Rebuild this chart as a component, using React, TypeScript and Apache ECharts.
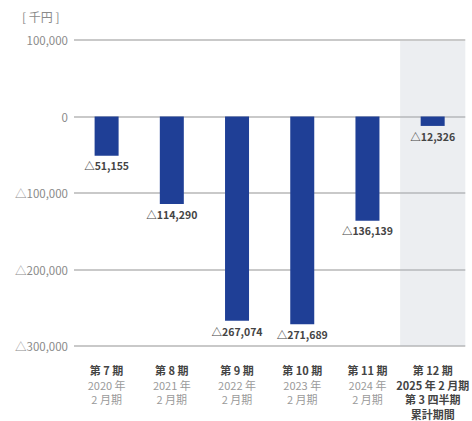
import React, { useEffect, useRef } from "react";
import * as echarts from "echarts";

const periods = ["第 7 期", "第 8 期", "第 9 期", "第 10 期", "第 11 期", "第 12 期"];
const subLine1 = ["2020 年", "2021 年", "2022 年", "2023 年", "2024 年", "2025 年 2 月期"];
const subLine2 = ["2 月期", "2 月期", "2 月期", "2 月期", "2 月期", "第 3 四半期"];
const subLine3 = ["", "", "", "", "", "累計期間"];
const values = [-51155, -114290, -267074, -271689, -136139, -12326];
const yTicks = [100000, 0, -100000, -200000, -300000];
const unitLabel = "[ 千円 ]";
const highlightIndex = 5;

const FONT = "'Noto Sans CJK JP', 'Noto Sans', sans-serif";

function fmt(v: number): string {
  const s = Math.abs(v).toLocaleString("en-US");
  return v < 0 ? "△" + s : s;
}

export default function App() {
  const ref = useRef<HTMLDivElement>(null);
  useEffect(() => {
    if (!ref.current) return;
    const chart = echarts.init(ref.current, undefined, { renderer: "svg" });
    const option: any = {
      animation: false,
      textStyle: { fontFamily: FONT },
      grid: { left: 74, right: 5, top: 40, bottom: 75 },
      xAxis: {
        type: "category",
        data: periods,
        axisLine: { show: false },
        axisTick: { show: false },
        axisLabel: {
          interval: 0,
          margin: 17,
          lineHeight: 14.5,
          formatter: (val: string, idx: number) => {
            const hl = idx === highlightIndex;
            const sub = hl ? "h" : "s";
            const lines = ["{b|" + val + "}", "{" + sub + "|" + subLine1[idx] + "}", "{" + sub + "|" + subLine2[idx] + "}"];
            if (subLine3[idx]) lines.push("{" + sub + "|" + subLine3[idx] + "}");
            return lines.join("\n");
          },
          rich: {
            b: { fontSize: 11, fontWeight: "bold", color: "#444", fontFamily: FONT, lineHeight: 14.5 },
            s: { fontSize: 11, color: "#9a9a9a", fontFamily: FONT, lineHeight: 14.5 },
            h: { fontSize: 11, fontWeight: "bold", color: "#444", fontFamily: FONT, lineHeight: 14.5 },
          },
        },
      },
      yAxis: {
        type: "value",
        min: yTicks[yTicks.length - 1],
        max: yTicks[0],
        interval: 100000,
        axisLine: { show: false },
        axisTick: { show: false },
        splitLine: { lineStyle: { color: "#c9c9c9", width: 2 } },
        axisLabel: {
          margin: 6,
          fontSize: 11.5,
          color: "#8a8a8a",
          fontFamily: FONT,
          formatter: (v: number) => fmt(v),
        },
      },
      series: [
        {
          type: "bar",
          z: 5,
          data: values,
          barWidth: 24,
          itemStyle: { color: "#1f3f96" },
          label: {
            show: true,
            position: "bottom",
            distance: 5,
            fontSize: 10.5,
            fontWeight: "bold",
            color: "#444",
            fontFamily: FONT,
            formatter: (p: any) => fmt(p.value),
          },
        },
      ],
    };
    chart.setOption(option);
    const p0 = chart.convertToPixel({ gridIndex: 0 }, [highlightIndex, yTicks[0]]) as number[];
    const p1 = chart.convertToPixel({ gridIndex: 0 }, [highlightIndex, yTicks[yTicks.length - 1]]) as number[];
    const pa = chart.convertToPixel({ gridIndex: 0 }, [0, 0]) as number[];
    const pb = chart.convertToPixel({ gridIndex: 0 }, [1, 0]) as number[];
    const band = pb[0] - pa[0];
    chart.setOption({
      graphic: [
        {
          type: "rect",
          z: 1,
          silent: true,
          shape: { x: p0[0] - band / 2, y: p0[1] + 1, width: band, height: p1[1] - p0[1] - 1 },
          style: { fill: "rgba(175,185,195,0.24)" },
        },
        {
          type: "text",
          left: 22,
          top: 10,
          z: 10,
          style: { text: unitLabel, fontSize: 12, fill: "#8a8a8a", fontFamily: FONT },
        },
      ],
    });
    return () => chart.dispose();
  }, []);
  return <div ref={ref} style={{ width: 472, height: 421, position: "absolute", left: 0, top: 0 }} />;
}
